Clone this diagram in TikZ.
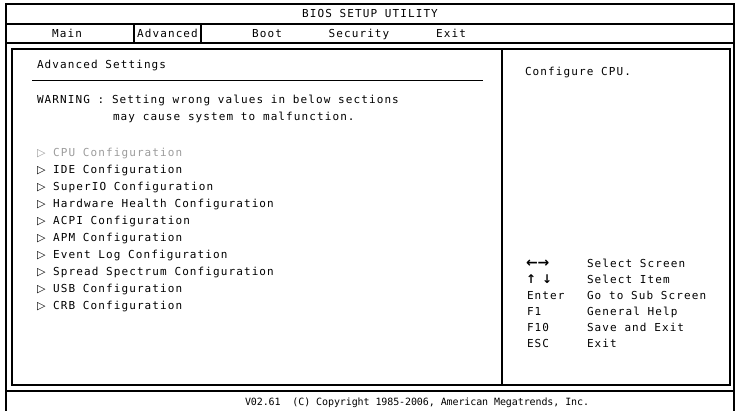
\documentclass[tikz,border=0pt]{standalone}
\usepackage{fontspec}
\newfontfamily\bios[LetterSpace=10]{DejaVu Sans Mono}
\newfontfamily\biosfoot[LetterSpace=-1]{DejaVu Sans Mono}
\newfontfamily\sym{DejaVu Sans}
\definecolor{dim}{RGB}{155,155,155}
\newcommand{\tri}{{\sym\fontsize{11}{12}\selectfont ▷}}
\begin{document}
\begin{tikzpicture}[x=1pt,y=-1pt,
  frame/.style={line width=1.6pt, line cap=rect},
  txt/.style={inner sep=0pt, outer sep=0pt, anchor=base west, font=\bios\fontsize{11}{12}\selectfont},
  ctxt/.style={txt, anchor=base},
  foottxt/.style={inner sep=0pt, outer sep=0pt, anchor=base west, font=\biosfoot\fontsize{10}{12}\selectfont},
  keysym/.style={inner sep=0pt, outer sep=0pt, anchor=base west, font=\sym\bfseries\fontsize{14}{14}\selectfont}]
\useasboundingbox (0,0) rectangle (736,411);
% outer frame
\coordinate (TL) at (6,4);
\coordinate (TR) at (734,4);
\coordinate (BL) at (6,411);
\coordinate (BR) at (734,411);
\draw[frame] (BL) -- (TL) -- (TR) -- (BR);
\draw[frame] (6,24) -- (734,24);
\draw[frame] (6,43) -- (734,43);
\draw[frame] (6,391) -- (734,391);
% advanced tab box
\draw[frame] (134,24) rectangle (201,43);
% inner box
\draw[frame] (12,49) rectangle (730,385);
\draw[frame] (502,49) -- (502,385);
% underline
\draw[frame] (33,80.5) -- (482,80.5);
% title + menu
\node[ctxt] (title) at (370,18) {BIOS SETUP UTILITY};
\node[ctxt] (main) at (67,37.5) {Main};
\node[ctxt] (adv) at (167.5,37.5) {Advanced};
\node[ctxt] (boot) at (267,37.5) {Boot};
\node[ctxt] (sec) at (359,37.5) {Security};
\node[ctxt] (exit) at (451,37.5) {Exit};
% left panel
\node[txt] (hdr) at (37,69) {Advanced Settings};
\node[txt] (warn1) at (37,104) {WARNING : Setting wrong values in below sections};
\node[txt] (warn2) at (113,121) {may cause system to malfunction.};
\node[txt, text=dim] (i1) at (37,157) {\tri{} CPU Configuration};
\node[txt] (i2) at (37,174) {\tri{} IDE Configuration};
\node[txt] (i3) at (37,191) {\tri{} SuperIO Configuration};
\node[txt] (i4) at (37,208) {\tri{} Hardware Health Configuration};
\node[txt] (i5) at (37,225) {\tri{} ACPI Configuration};
\node[txt] (i6) at (37,242) {\tri{} APM Configuration};
\node[txt] (i7) at (37,259) {\tri{} Event Log Configuration};
\node[txt] (i8) at (37,276) {\tri{} Spread Spectrum Configuration};
\node[txt] (i9) at (37,293) {\tri{} USB Configuration};
\node[txt] (i10) at (37,310) {\tri{} CRB Configuration};
% right panel
\node[txt] (help) at (525,76) {Configure CPU.};
\node[keysym] (k1) at (526,268) {←→};
\node[keysym, font=\sym\bfseries\fontsize{12}{12}\selectfont] (k2) at (526,284) {↑\kern6pt↓};
\node[txt] (k3) at (527,300) {Enter};
\node[txt] (k4) at (527,316) {F1};
\node[txt] (k5) at (527,332) {F10};
\node[txt] (k6) at (527,348) {ESC};
\node[txt] (d1) at (587,268) {Select Screen};
\node[txt] (d2) at (587,284) {Select Item};
\node[txt] (d3) at (587,300) {Go to Sub Screen};
\node[txt] (d4) at (587,316) {General Help};
\node[txt] (d5) at (587,332) {Save and Exit};
\node[txt] (d6) at (587,348) {Exit};
% footer
\node[foottxt] (foot) at (245,405) {V02.61\ \ (C) Copyright 1985-2006, American Megatrends, Inc.};
\end{tikzpicture}
\end{document}
